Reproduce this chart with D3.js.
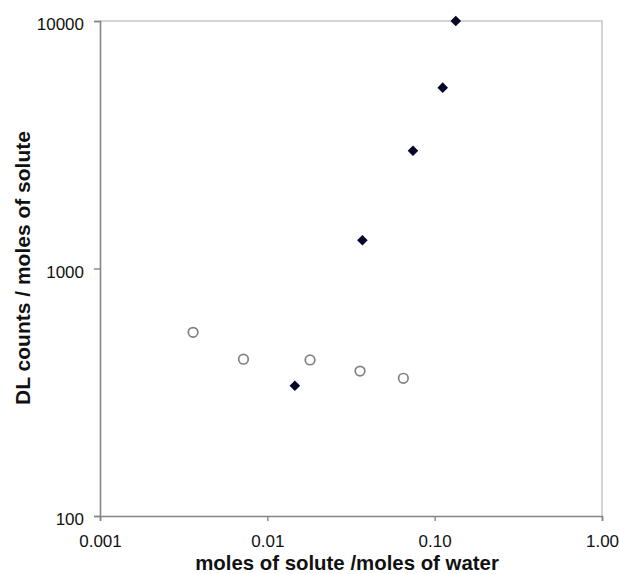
<!DOCTYPE html>
<html>
<head>
<meta charset="utf-8">
<script src="https://cdn.jsdelivr.net/npm/d3@7"></script>
<style>
  body { margin: 0; background: #fff; }
  text { font-family: "Liberation Sans", Arial, sans-serif; }
</style>
</head>
<body>
<div id="canvas"></div>
<script>
const W = 620, H = 574;
const padL = 100, padT = 21, padR = 602, padB = 516;

// filled diamonds
const diamondX = [0.0146, 0.037, 0.0742, 0.1117, 0.1337];
const diamondY = [336, 1300, 2990, 5380, 10000];
// open circles
const circleX = [0.0036, 0.0072, 0.018, 0.0358, 0.065];
const circleY = [552, 430, 427, 385, 360];

const xTicks = [0.001, 0.01, 0.1, 1];
const xTickLabels = ['0.001', '0.01', '0.10', '1.00'];
const yTicks = [100, 1000, 10000];
const yTickLabels = ['100', '1000', '10000'];

const svg = d3.select('#canvas').append('svg')
  .attr('width', W)
  .attr('height', H);

const x = d3.scaleLog().domain([0.001, 1]).range([padL, padR]);
const y = d3.scaleLog().domain([100, 10000]).range([padB, padT]);

// light frame on top and right
svg.append('path')
  .attr('d', `M${padL},${padT}H${padR}V${padB}`)
  .attr('fill', 'none')
  .attr('stroke', '#d4d4d4')
  .attr('stroke-width', 2);

const xAxis = svg.append('g')
  .attr('transform', `translate(0,${padB})`)
  .call(d3.axisBottom(x).tickValues(xTicks)
    .tickFormat((d, i) => xTickLabels[i]).tickSize(5).tickPadding(14));

const yAxis = svg.append('g')
  .attr('transform', `translate(${padL},0)`)
  .call(d3.axisLeft(y).tickValues(yTicks)
    .tickFormat((d, i) => yTickLabels[i]).tickSize(6).tickPadding(10));

[xAxis, yAxis].forEach(a => {
  a.select('.domain').attr('stroke', '#858585').attr('stroke-width', 1.6);
  a.selectAll('.tick line').attr('stroke', '#858585').attr('stroke-width', 1.4);
  a.selectAll('.tick text')
    .attr('fill', '#111')
    .attr('font-size', '17px')
    .style('font-family', '"Liberation Sans", Arial, sans-serif');
});
yAxis.selectAll('.tick text').attr('dy', '0.5em');

svg.selectAll('circle.open')
  .data(circleX)
  .enter()
  .append('circle')
  .attr('class', 'open')
  .attr('cx', d => x(d))
  .attr('cy', (d, i) => y(circleY[i]))
  .attr('r', 4.8)
  .attr('fill', '#fff')
  .attr('stroke', '#808080')
  .attr('stroke-width', 1.7);

svg.selectAll('path.dia')
  .data(diamondX)
  .enter()
  .append('path')
  .attr('class', 'dia')
  .attr('d', d3.symbol(d3.symbolSquare, 56)())
  .attr('transform', (d, i) => `translate(${x(d)},${y(diamondY[i])}) rotate(45)`)
  .attr('fill', '#06062a');

svg.append('text')
  .text('moles of solute /moles of water')
  .attr('x', 347)
  .attr('y', 570)
  .attr('text-anchor', 'middle')
  .attr('font-weight', 'bold')
  .attr('font-size', '20.4px')
  .attr('fill', '#111');

svg.append('text')
  .text('DL counts / moles of solute')
  .attr('transform', 'translate(30,268) rotate(-90)')
  .attr('text-anchor', 'middle')
  .attr('font-weight', 'bold')
  .attr('font-size', '21px')
  .attr('fill', '#111');
</script>
</body>
</html>
